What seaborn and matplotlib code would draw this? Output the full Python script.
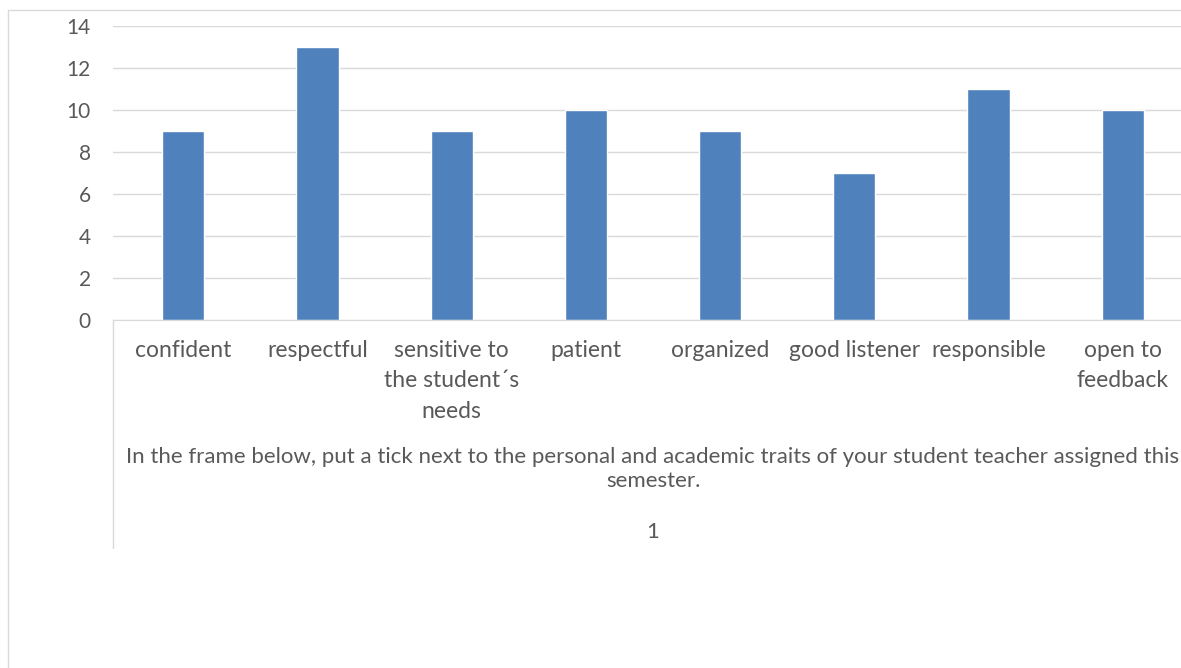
import numpy as np
import pandas as pd
import seaborn as sns
import matplotlib.pyplot as plt
from matplotlib.patches import Rectangle

# values
traits = ["confident", "respectful", "sensitive to\nthe student´s\nneeds", "patient",
          "organized", "good listener", "responsible", "open to\nfeedback"]
counts = [9, 13, 9, 10, 9, 7, 11, 10]
y_ticks = [0, 2, 4, 6, 8, 10, 12, 14]
group_label = ("In the frame below, put a tick next to the personal and academic traits "
               "of your student teacher assigned this\nsemester.")
series_label = "1"

df = pd.DataFrame({"trait": traits, "count": counts})

sns.set_style("white")
plt.rcParams["font.family"] = ["Lato", "DejaVu Sans"]
txt_col = "#595959"
grid_col = "#D9D9D9"

W, H = 1181, 668
fig = plt.figure(figsize=(W / 100, H / 100), dpi=100)
# plot area runs a bit past the right edge, like the cropped original
ax = fig.add_axes([113 / W, 1 - 320 / H, 1080 / W, 294 / H])

sns.barplot(data=df, x="trait", y="count", color="#4F81BD", saturation=1,
            width=0.315, ax=ax)

ax.set_ylim(0, 14)
ax.set_yticks(y_ticks)
ax.set_xticks(range(len(traits)))
ax.set_xticklabels(traits, linespacing=1.55)
ax.set_xlabel("")
ax.set_ylabel("")
ax.yaxis.grid(True, color=grid_col, lw=1)
ax.set_axisbelow(True)
for s in ["top", "right", "left"]:
    ax.spines[s].set_visible(False)
ax.spines["bottom"].set_color(grid_col)
ax.tick_params(axis="y", length=0, labelcolor=txt_col, labelsize=15, pad=16)
ax.tick_params(axis="x", length=0, labelcolor=txt_col, labelsize=16.5, pad=14.5)

# multi-level category labels
ax.text(0.5, -0.507, group_label, transform=ax.transAxes, ha="center", va="center",
        color=txt_col, fontsize=16, linespacing=1.3)
ax.text(0.5, -0.721, series_label, transform=ax.transAxes, ha="center", va="center",
        color=txt_col, fontsize=16)
ax.plot([0, 0], [0, -228 / 294], transform=ax.transAxes, clip_on=False,
        color=grid_col, lw=1)

# chart border (cropped on right and bottom)
fig.add_artist(Rectangle((8 / W, -0.1), 1.2, 1 - 10 / H + 0.1,
                         transform=fig.transFigure, fill=False,
                         edgecolor=grid_col, lw=1))

fig.savefig("out.png", dpi=100)
